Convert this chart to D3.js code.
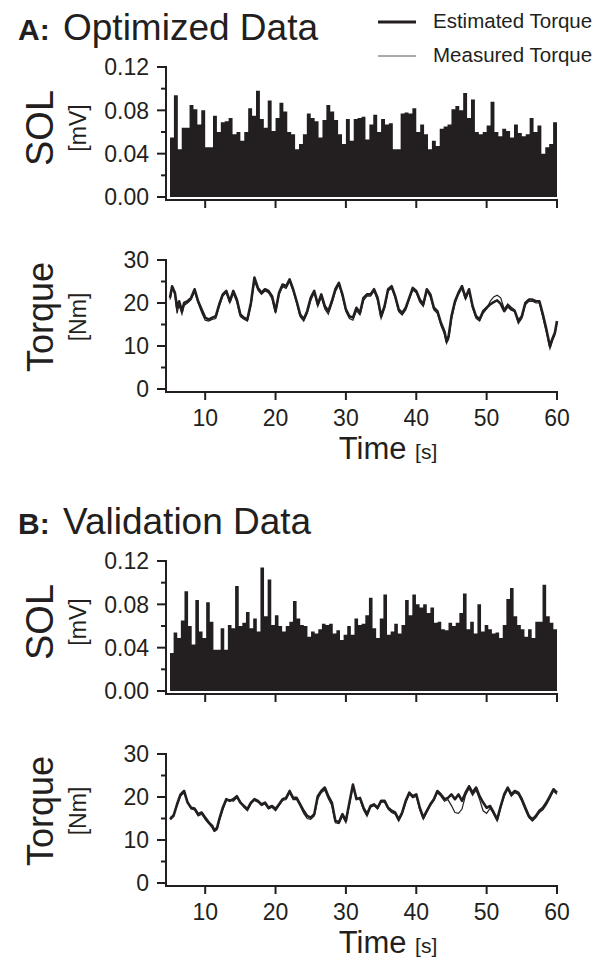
<!DOCTYPE html>
<html>
<head>
<meta charset="utf-8">
<script src="https://d3js.org/d3.v7.min.js"></script>
<style>
  body { margin: 0; background: #fff; }
  text { font-family: "Liberation Sans", Arial, sans-serif; fill: #231f20; }
</style>
</head>
<body>
<div id="chart"></div>
<script>
// SOL EMG peaks (mV), evenly spread over 5..60 s
const solA = [0.055, 0.094, 0.044, 0.064, 0.064, 0.085, 0.081, 0.067, 0.080, 0.046, 0.046, 0.075, 0.060, 0.069, 0.070, 0.073, 0.058, 0.060, 0.052, 0.060,
  0.082, 0.075, 0.098, 0.072, 0.064, 0.089, 0.061, 0.073, 0.087, 0.079, 0.060, 0.058, 0.044, 0.049, 0.058, 0.077, 0.073, 0.070, 0.055, 0.071,
  0.085, 0.079, 0.071, 0.058, 0.049, 0.072, 0.052, 0.072, 0.073, 0.074, 0.053, 0.067, 0.076, 0.060, 0.072, 0.067, 0.068, 0.044, 0.044, 0.077,
  0.078, 0.077, 0.082, 0.060, 0.067, 0.058, 0.044, 0.052, 0.047, 0.063, 0.065, 0.067, 0.081, 0.084, 0.080, 0.096, 0.073, 0.090, 0.060, 0.058,
  0.060, 0.066, 0.088, 0.060, 0.056, 0.063, 0.061, 0.055, 0.067, 0.059, 0.056, 0.058, 0.073, 0.060, 0.066, 0.040, 0.046, 0.049, 0.069];

const solB = [0.035, 0.054, 0.049, 0.065, 0.092, 0.060, 0.043, 0.084, 0.055, 0.049, 0.082, 0.064, 0.038, 0.038, 0.058, 0.038, 0.061, 0.058, 0.097, 0.060,
  0.063, 0.073, 0.058, 0.067, 0.055, 0.114, 0.069, 0.103, 0.061, 0.070, 0.060, 0.055, 0.060, 0.064, 0.083, 0.067, 0.061, 0.060, 0.050, 0.055,
  0.053, 0.057, 0.062, 0.061, 0.062, 0.053, 0.056, 0.047, 0.052, 0.060, 0.052, 0.067, 0.061, 0.062, 0.070, 0.086, 0.058, 0.049, 0.067, 0.089,
  0.052, 0.055, 0.062, 0.053, 0.061, 0.084, 0.070, 0.089, 0.080, 0.077, 0.080, 0.072, 0.077, 0.063, 0.064, 0.057, 0.056, 0.063, 0.060, 0.063,
  0.072, 0.090, 0.057, 0.064, 0.053, 0.080, 0.055, 0.061, 0.057, 0.053, 0.054, 0.049, 0.061, 0.085, 0.095, 0.069, 0.061, 0.057, 0.050, 0.057,
  0.049, 0.064, 0.064, 0.098, 0.069, 0.063, 0.057];

// torque traces (Nm)
const timeA = [5, 5.3, 5.7, 6, 6.3, 6.7, 7, 7.5, 8, 8.5, 9, 9.5, 10, 10.5, 11, 11.5, 12, 12.5, 13, 13.5, 14, 14.5, 15, 15.5, 16, 16.5, 17, 17.5, 18, 18.5,
  19, 19.5, 20, 20.5, 21, 21.5, 22, 22.5, 23, 23.5, 24, 24.5, 25, 25.5, 26, 26.5, 27, 27.5, 28, 28.5, 29, 29.5, 30, 30.5, 31, 31.5, 32, 32.5, 33, 33.5,
  34, 34.5, 35, 35.5, 36, 36.5, 37, 37.5, 38, 38.5, 39, 39.5, 40, 40.5, 41, 41.5, 42, 42.5, 43, 43.5, 44, 44.3, 44.6, 45, 45.5, 46, 46.5, 47, 47.5, 48,
  48.5, 49, 49.5, 50, 50.5, 51, 51.5, 52, 52.5, 53, 53.5, 54, 54.5, 55, 55.5, 56, 56.5, 57, 57.5, 58, 58.5, 59, 59.3, 59.7, 60];
const estA = [21.2, 23.9, 22.4, 18.9, 20.4, 18.1, 20.0, 20.4, 21.2, 23.2, 20.4, 18.5, 16.6, 16.2, 16.6, 16.9, 19.7, 22.0, 22.8, 20.4, 22.8, 20.8, 17.3, 16.6, 16.2, 20.0, 25.9, 23.5, 22.4, 23.2,
  22.8, 21.6, 18.1, 22.4, 24.3, 23.9, 25.5, 23.2, 20.4, 17.3, 16.2, 18.1, 21.2, 22.8, 19.7, 22.0, 19.3, 18.1, 20.4, 23.2, 24.7, 22.0, 18.5, 16.9, 16.6, 18.9, 17.7, 21.2, 22.0, 22.0,
  23.2, 21.2, 16.9, 19.3, 23.2, 23.9, 21.6, 18.5, 17.7, 18.9, 21.2, 23.5, 22.8, 20.8, 19.7, 23.2, 22.0, 18.9, 18.1, 15.4, 13.4, 11.1, 12.3, 16.9, 20.4, 22.4, 23.9, 21.2, 23.2, 19.3,
  16.9, 16.2, 18.1, 18.9, 19.7, 20.2, 20.6, 19.8, 18.1, 19.3, 18.5, 18.1, 15.8, 16.9, 20.0, 20.8, 20.8, 20.4, 20.4, 17.3, 13.8, 9.9, 11.5, 13.1, 15.8];
const measA = [20.8, 23.4, 22.0, 17.6, 19.6, 17.4, 19.4, 20.0, 20.8, 22.6, 20.0, 17.8, 16.0, 15.8, 16.2, 16.4, 19.2, 21.6, 22.4, 20.0, 22.2, 20.2, 16.8, 16.2, 15.8, 19.4, 25.2, 23.0, 22.0, 22.8,
  22.4, 21.0, 17.6, 22.0, 23.8, 23.4, 25.0, 22.8, 20.0, 16.8, 15.8, 17.6, 20.6, 22.4, 19.2, 21.4, 18.6, 17.4, 19.8, 22.6, 24.2, 21.6, 18.0, 16.4, 16.0, 18.2, 17.2, 20.6, 21.6, 21.6,
  22.8, 20.6, 16.4, 18.8, 22.8, 23.4, 21.2, 18.0, 17.2, 18.4, 20.8, 23.0, 22.4, 20.2, 19.2, 22.8, 21.4, 18.4, 17.6, 14.8, 12.8, 10.6, 11.6, 16.2, 19.8, 22.0, 23.4, 20.8, 22.8, 18.8,
  16.4, 15.8, 17.6, 18.6, 20.4, 21.4, 21.8, 21.2, 18.6, 19.8, 19.0, 18.4, 15.2, 16.4, 19.6, 20.4, 20.4, 20.0, 20.0, 16.6, 13.2, 9.4, 11.0, 12.6, 15.4];

const timeB = [5, 5.5, 6, 6.5, 7, 7.5, 8, 8.5, 9, 9.5, 10, 10.5, 11, 11.3, 11.7, 12, 12.5, 13, 13.5, 14, 14.5, 15, 15.5, 16, 16.5, 17, 17.5, 18, 18.5,
  19, 19.5, 20, 20.5, 21, 21.5, 22, 22.5, 23, 23.5, 24, 24.5, 25, 25.5, 26, 26.5, 27, 27.5, 28, 28.5, 29, 29.5, 30, 30.5, 31, 31.5, 32, 32.5, 33, 33.5,
  34, 34.5, 35, 35.5, 36, 36.5, 37, 37.5, 38, 38.5, 39, 39.5, 40, 40.5, 41, 41.5, 42, 42.5, 43, 43.5, 44, 44.5, 45, 45.5, 46, 46.5, 47, 47.5, 48,
  48.5, 49, 49.5, 50, 50.5, 51, 51.5, 52, 52.5, 53, 53.5, 54, 54.5, 55, 55.5, 56, 56.5, 57, 57.5, 58, 58.5, 59, 59.5, 60];
const estB = [14.8, 15.6, 18.3, 20.6, 21.4, 18.7, 17.5, 17.3, 16.0, 16.4, 15.2, 14.1, 13.3, 12.2, 12.9, 14.8, 17.5, 19.5, 19.1, 19.5, 20.2, 18.7, 17.9, 17.2, 18.7, 19.5, 19.1, 18.3, 18.7,
  17.5, 17.9, 17.2, 18.3, 19.5, 19.8, 21.4, 19.8, 19.8, 18.3, 16.8, 15.6, 15.2, 16.0, 20.2, 21.4, 22.2, 20.2, 18.7, 14.5, 14.1, 16.0, 14.5, 18.7, 22.9, 19.5, 19.8, 17.5, 16.0, 17.9,
  18.3, 17.5, 19.1, 19.1, 17.5, 16.8, 16.4, 14.8, 16.4, 19.1, 21.0, 20.2, 20.6, 17.5, 15.2, 16.8, 18.3, 19.5, 21.4, 20.6, 19.5, 19.8, 20.6, 19.5, 20.6, 19.1, 21.0, 22.5, 21.0,
  22.2, 20.2, 18.7, 17.5, 17.9, 16.4, 14.8, 17.9, 20.6, 22.2, 20.6, 21.4, 21.0, 19.5, 17.5, 15.6, 14.8, 15.6, 16.8, 17.5, 18.7, 20.2, 21.8, 21.0];
const measB = [15.2, 15.9, 18.0, 20.2, 21.0, 18.9, 17.2, 17.0, 15.6, 16.0, 14.8, 13.8, 12.8, 12.0, 12.4, 14.4, 17.0, 19.1, 19.4, 19.0, 19.8, 19.0, 17.6, 16.8, 18.4, 19.2, 18.8, 18.0, 18.4,
  17.2, 17.6, 16.8, 18.0, 19.2, 19.4, 21.0, 19.4, 19.4, 17.9, 16.2, 15.0, 14.8, 15.6, 19.6, 21.0, 21.6, 19.6, 18.0, 14.0, 13.8, 15.6, 14.0, 18.2, 22.4, 19.8, 19.4, 17.0, 15.5, 17.6,
  18.0, 17.2, 18.8, 18.8, 17.2, 16.4, 16.0, 14.4, 16.0, 18.7, 20.6, 19.8, 20.2, 17.0, 14.8, 16.4, 18.0, 19.2, 21.0, 20.2, 19.0, 19.4, 18.0, 16.4, 16.2, 17.2, 20.4, 22.0, 20.4,
  21.6, 19.4, 16.8, 16.2, 17.4, 16.0, 14.4, 17.4, 20.2, 21.8, 20.2, 21.0, 20.6, 19.0, 17.0, 15.2, 14.4, 15.2, 16.4, 17.0, 18.2, 19.8, 21.4, 20.6];

const solTicks = [0, 0.04, 0.08, 0.12];
const torqueTicks = [0, 10, 20, 30];
const timeTicks = [10, 20, 30, 40, 50, 60];

const ink = '#231f20';
const w = 605;
const h = 961;

const svg = d3.select('#chart')
              .append('svg')
              .attr('width', w)
              .attr('height', h);

const xScale = d3.scaleLinear()
                 .domain([5, 60])
                 .range([170, 557]);

// legend
svg.append('line').attr('x1', 378).attr('x2', 416).attr('y1', 22).attr('y2', 22)
   .attr('stroke', ink).attr('stroke-width', 2.8);
svg.append('line').attr('x1', 378).attr('x2', 416).attr('y1', 56).attr('y2', 56)
   .attr('stroke', '#555').attr('stroke-width', 1);
svg.append('text').attr('x', 433).attr('y', 28).attr('font-size', 20.5).text('Estimated Torque');
svg.append('text').attr('x', 433).attr('y', 62).attr('font-size', 20.5).text('Measured Torque');

function drawYAxis(g, scale, ticks, minor, fmt, bottom) {
  const top = scale(d3.max(ticks));
  g.append('line').attr('x1', 166).attr('x2', 166).attr('y1', top - 1).attr('y2', bottom)
   .attr('stroke', ink).attr('stroke-width', 2);
  g.selectAll('.minor').data(minor).enter().append('line')
   .attr('x1', 161).attr('x2', 166)
   .attr('y1', (d) => scale(d)).attr('y2', (d) => scale(d))
   .attr('stroke', ink).attr('stroke-width', 2);
  g.selectAll('.major').data(ticks).enter().append('line')
   .attr('x1', 157).attr('x2', 166)
   .attr('y1', (d) => scale(d)).attr('y2', (d) => scale(d))
   .attr('stroke', ink).attr('stroke-width', 2);
  g.selectAll('.lab').data(ticks).enter().append('text')
   .attr('x', 149).attr('y', (d) => scale(d)).attr('dy', '0.36em')
   .attr('text-anchor', 'end').attr('font-size', 23)
   .text(fmt);
}

function drawXAxis(g, y, labels) {
  g.append('line').attr('x1', 165).attr('x2', xScale(60) + 1).attr('y1', y).attr('y2', y)
   .attr('stroke', ink).attr('stroke-width', 2);
  g.selectAll('.xt').data(timeTicks).enter().append('line')
   .attr('x1', (d) => xScale(d)).attr('x2', (d) => xScale(d))
   .attr('y1', y).attr('y2', y + 8)
   .attr('stroke', ink).attr('stroke-width', 2);
  if (labels) {
    g.selectAll('.xl').data(timeTicks).enter().append('text')
     .attr('x', (d) => xScale(d)).attr('y', y + 34)
     .attr('text-anchor', 'middle').attr('font-size', 23)
     .text((d) => d);
    const t = g.append('text').attr('x', 388).attr('y', y + 67).attr('text-anchor', 'middle');
    t.append('tspan').attr('font-size', 31).text('Time ');
    t.append('tspan').attr('font-size', 21).text('[s]');
  }
}

function yLabel(g, cy, big, bigSize, unit) {
  g.append('text').attr('transform', 'translate(53,' + cy + ') rotate(-90)')
   .attr('text-anchor', 'middle').attr('font-size', bigSize).text(big);
  g.append('text').attr('transform', 'translate(86,' + cy + ') rotate(-90)')
   .attr('text-anchor', 'middle').attr('font-size', 23).text(unit);
}

function panel(off, letter, title, sol, time, est, meas) {
  const g = svg.append('g').attr('transform', 'translate(0,' + off + ')');

  g.append('text').attr('x', 18).attr('y', 40).attr('font-size', 30).attr('font-weight', 'bold').text(letter);
  g.append('text').attr('x', 63).attr('y', 40).attr('font-size', 37).text(title);

  // SOL, drawn as one stepped area so the bars have no seams
  const ySol = d3.scaleLinear().domain([0, 0.12]).range([197, 67]);
  const step = (60 - 5) / sol.length;
  const solPts = sol.map((d, i) => [5 + i * step, d]).concat([[60, sol[sol.length - 1]]]);
  const area = d3.area()
                 .x((d) => xScale(d[0]))
                 .y0(ySol(0))
                 .y1((d) => ySol(d[1]))
                 .curve(d3.curveStepAfter);
  g.append('path').datum(solPts).attr('d', area).attr('fill', ink);
  drawYAxis(g, ySol, solTicks, [0.02, 0.06, 0.10], (d) => d.toFixed(2), 200);
  drawXAxis(g, 200, false);
  yLabel(g, 128, 'SOL', 38, '[mV]');

  // torque
  const yTq = d3.scaleLinear().domain([0, 30]).range([389, 260]);
  const line = d3.line().x((d) => xScale(d[0])).y((d) => yTq(d[1]));
  g.append('path').datum(time.map((t, i) => [t, meas[i]]))
   .attr('d', line).attr('fill', 'none').attr('stroke', ink).attr('stroke-width', 1.2);
  g.append('path').datum(time.map((t, i) => [t, est[i]]))
   .attr('d', line).attr('fill', 'none').attr('stroke', ink).attr('stroke-width', 2.6)
   .attr('stroke-linejoin', 'round');
  drawYAxis(g, yTq, torqueTicks, [5, 15, 25], (d) => d, 392);
  drawXAxis(g, 392, true);
  yLabel(g, 317, 'Torque', 36, '[Nm]');
}

panel(0, 'A:', 'Optimized Data', solA, timeA, estA, measA);
panel(494, 'B:', 'Validation Data', solB, timeB, estB, measB);
</script>
</body>
</html>
